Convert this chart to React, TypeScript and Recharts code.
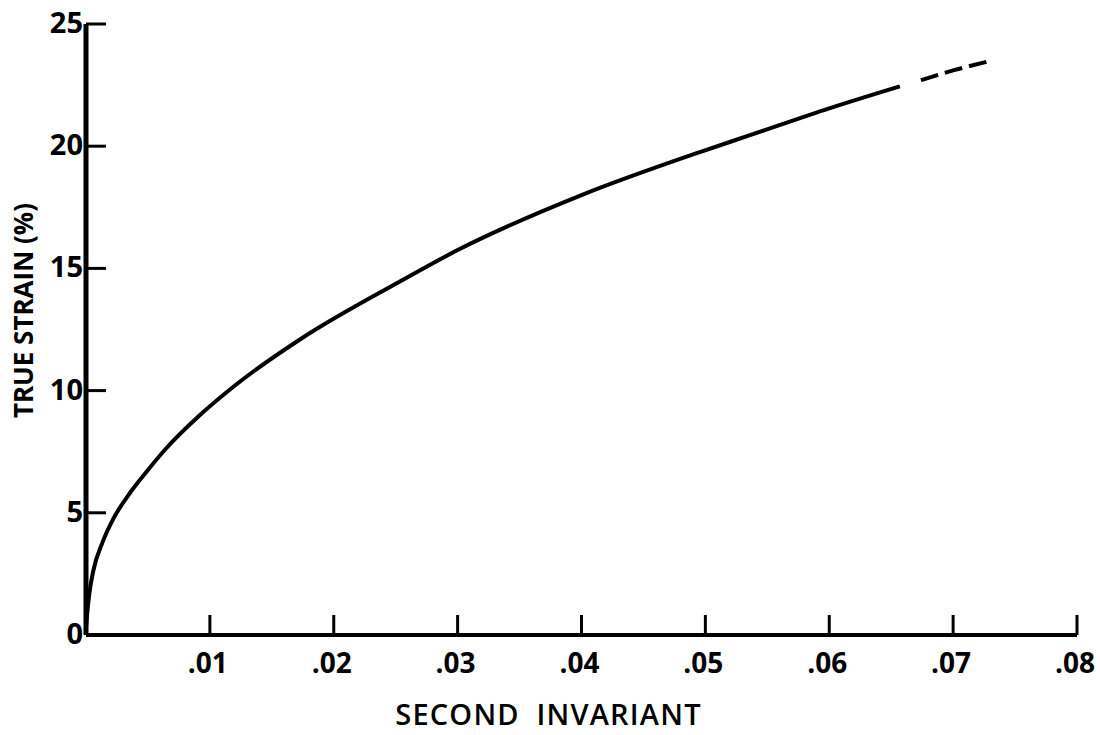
import React from 'react';
import { LineChart, Line, XAxis, YAxis } from 'recharts';

// Solid part of the curve (second invariant vs true strain %)
const solidX = [0, 0.0001, 0.00027, 0.0006, 0.0013, 0.0022, 0.0036, 0.005, 0.0065, 0.0092, 0.012, 0.0173, 0.0253, 0.03, 0.04, 0.0495, 0.0536, 0.06, 0.0657];
const solidY = [0.3, 0.9, 1.7, 2.65, 3.75, 4.75, 5.85, 6.75, 7.65, 9.0, 10.2, 12.1, 14.45, 15.75, 18.0, 19.75, 20.45, 21.55, 22.45];

// Dashed extrapolation
const dashX = [0.0674, 0.07, 0.0727];
const dashY = [22.7, 23.1, 23.45];

const xTicks = [0.01, 0.02, 0.03, 0.04, 0.05, 0.06, 0.07, 0.08];
const yTicks = [0, 5, 10, 15, 20, 25];

const solidData = solidX.map((x, i) => ({ x, y: solidY[i] }));
const dashData = dashX.map((x, i) => ({ x, y: dashY[i] }));

const FONT = '"Open Sans", "DejaVu Sans", sans-serif';

const fmtX = (v: number) => v.toFixed(2).replace(/^0/, '');

// x ticks point up into the plot, labels hang below the axis
const XTick = ({ x, y, payload }: any) => (
  <g>
    <line x1={x} y1={y} x2={x} y2={y - 20} stroke="#000" strokeWidth={3} />
    <text x={x - 2} y={y + 38} textAnchor="middle" fontFamily={FONT} fontWeight={700} fontSize={28} fill="#000">
      {fmtX(payload.value)}
    </text>
  </g>
);

// y ticks point right into the plot
const YTick = ({ x, y, payload }: any) => (
  <g>
    {payload.value !== 0 && (
      <line x1={x} y1={y} x2={x + 20} y2={y} stroke="#000" strokeWidth={3} />
    )}
    <text x={x - 3} y={y + 9} textAnchor="end" fontFamily={FONT} fontWeight={700} fontSize={29} fill="#000">
      {payload.value}
    </text>
  </g>
);

const App = () => {
  return (
    <div style={{ position: 'absolute', left: 0, top: 0, background: '#fff' }}>
      <LineChart width={1100} height={735} margin={{ top: 24, right: 23, bottom: 0, left: 0 }}>
        <XAxis
          dataKey="x"
          type="number"
          domain={[0, 0.08]}
          ticks={xTicks}
          tick={<XTick />}
          tickSize={0}
          tickMargin={0}
          tickLine={false}
          axisLine={{ stroke: '#000', strokeWidth: 4 }}
          height={100}
          allowDuplicatedCategory={false}
          label={{
            value: 'SECOND INVARIANT',
            position: 'insideBottom',
            offset: 10,
            dx: -33,
            fill: '#000',
            fontSize: 29,
            fontFamily: FONT,
            fontWeight: 600,
            letterSpacing: 1.2,
            wordSpacing: 8,
          }}
        />
        <YAxis
          type="number"
          domain={[0, 25]}
          ticks={yTicks}
          tick={<YTick />}
          tickSize={0}
          tickMargin={0}
          tickLine={false}
          axisLine={{ stroke: '#000', strokeWidth: 5 }}
          width={86}
          label={{
            value: 'TRUE STRAIN (%)',
            angle: -90,
            position: 'insideLeft',
            offset: 24,
            dy: -19,
            fill: '#000',
            fontSize: 26,
            fontFamily: FONT,
            fontWeight: 700,
            style: { textAnchor: 'middle' },
          }}
        />
        <Line
          data={solidData}
          dataKey="y"
          type="monotone"
          stroke="#000"
          strokeWidth={4}
          dot={false}
          isAnimationActive={false}
        />
        <Line
          data={dashData}
          dataKey="y"
          type="monotone"
          stroke="#000"
          strokeWidth={4}
          strokeDasharray="18 7"
          dot={false}
          isAnimationActive={false}
        />
      </LineChart>
    </div>
  );
};

export default App;
